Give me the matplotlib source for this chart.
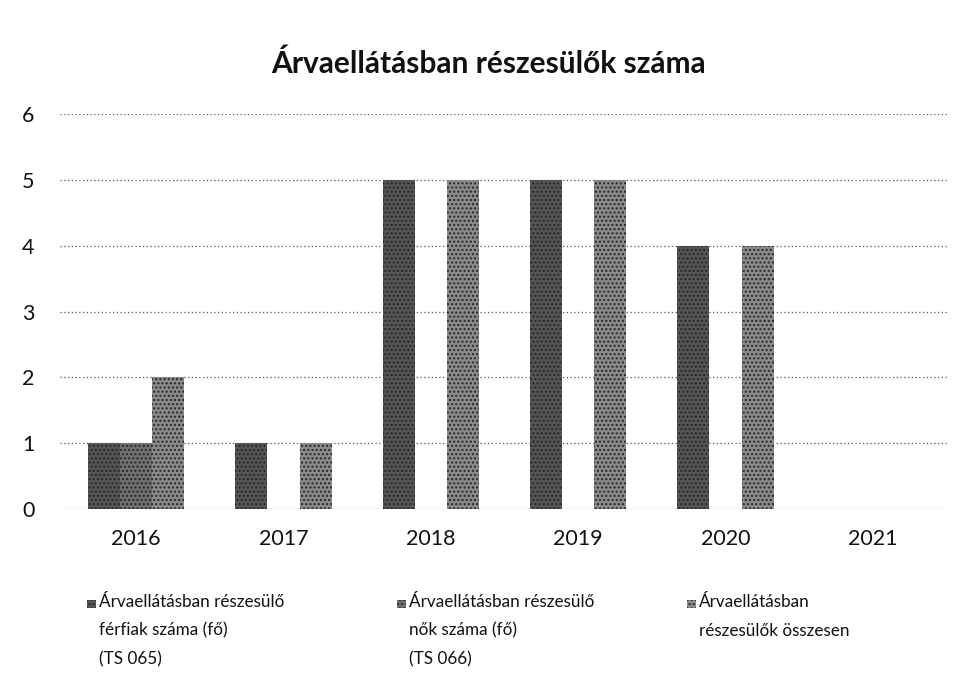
import numpy as np
import matplotlib
matplotlib.use('Agg')
import matplotlib.pyplot as plt
from matplotlib.patches import Rectangle

plt.rcParams['font.family'] = ['Lato', 'DejaVu Sans']

# adatok
years = ['2016', '2017', '2018', '2019', '2020', '2021']
ferfiak = [1, 1, 5, 5, 4, 0]
nok = [1, 0, 0, 0, 0, 0]
osszesen = [2, 1, 5, 5, 4, 0]
labels = ['Árvaellátásban részesülő\nférfiak száma (fő)\n(TS 065)',
          'Árvaellátásban részesülő\nnők száma (fő)\n(TS 066)',
          'Árvaellátásban\nrészesülők összesen']
colors = ['#555555', '#707070', '#8a8a8a']

fig = plt.figure(figsize=(9.6, 6.87), dpi=100)
ax = fig.add_axes([0.062, 0.259, 0.924, 0.575])

x = np.arange(len(years))
w = 0.218
series = [ferfiak, nok, osszesen]
for i, vals in enumerate(series):
    ax.bar(x + (i - 1) * w, vals, w, color=colors[i], hatch='....',
           edgecolor='#262626', linewidth=0, zorder=3)

ax.set_xlim(-0.52, len(years) - 0.5)
ax.set_ylim(0, 6)
ax.set_yticks(range(7))
ax.set_xticks(x)
ax.set_xticklabels(years)
ax.tick_params(axis='both', length=0, labelsize=15.5, colors='#111111')
ax.tick_params(axis='x', pad=14)
ax.tick_params(axis='y', pad=18)
ax.grid(axis='y', linestyle=(0, (1, 2)), color='#555555', linewidth=0.9, zorder=0)
for s in ax.spines.values():
    s.set_visible(False)
ax.axhline(0, color='#777777', linestyle=(0, (1, 4)), linewidth=0.8, zorder=1)

fig.text(0.509, 0.907, 'Árvaellátásban részesülők száma', ha='center', va='center',
         fontsize=21.5, fontweight='bold', color='#111111')

# jelmagyarázat kézzel, a jelölés az első sorral egy vonalban
leg_x = [0.091, 0.414, 0.716]
for i, lab in enumerate(labels):
    fig.patches.append(Rectangle((leg_x[i], 0.115), 0.0085, 0.011,
                                 transform=fig.transFigure, facecolor=colors[i],
                                 hatch='....', edgecolor='#262626', linewidth=0))
    fig.text(leg_x[i] + 0.0125, 0.135, lab, ha='left', va='top', fontsize=12.3,
             color='#111111', linespacing=1.95)

fig.savefig('out.png', dpi=100)
